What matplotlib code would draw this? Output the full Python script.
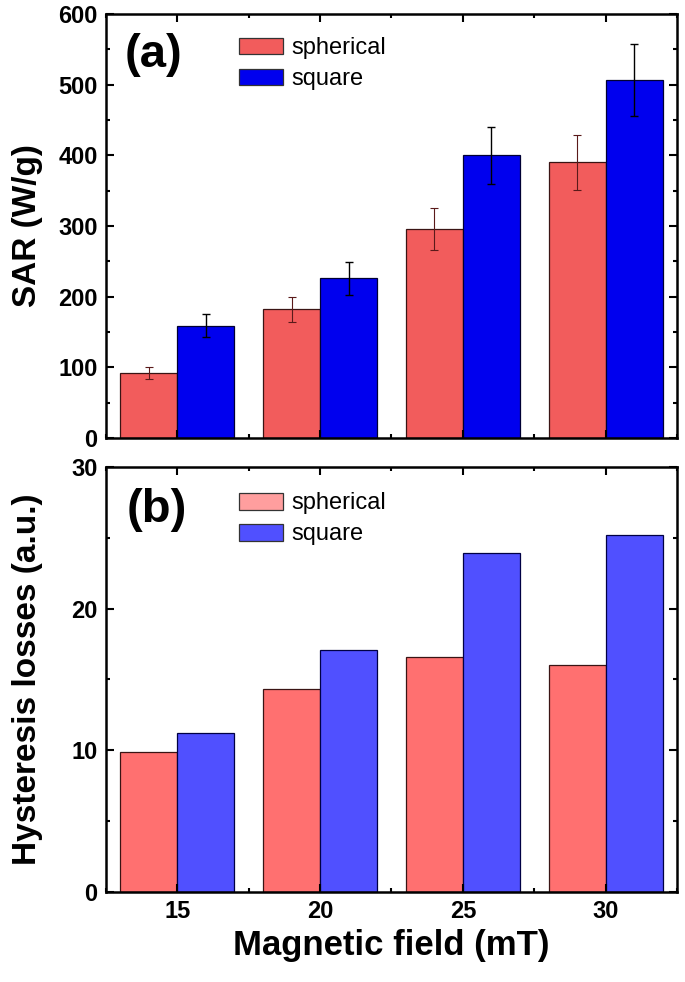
import matplotlib
matplotlib.use('Agg')
import matplotlib.pyplot as plt
from matplotlib.ticker import MultipleLocator

plt.rcParams['font.family'] = ['Liberation Sans', 'DejaVu Sans']

# datos
campo = [15, 20, 25, 30]
sar_esferica = [92, 182, 296, 390]
sar_esferica_err = [9, 18, 30, 39]
sar_cuadrada = [159, 226, 400, 506]
sar_cuadrada_err = [16, 23, 40, 51]
hist_esferica = [9.9, 14.3, 16.6, 16.0]
hist_cuadrada = [11.2, 17.1, 23.9, 25.2]

ancho = 2.0
x_esf = [c - ancho / 2 for c in campo]
x_cua = [c + ancho / 2 for c in campo]

fig = plt.figure(figsize=(6.85, 9.82), dpi=100)
ax1 = fig.add_axes([0.1547, 0.5540, 0.8336, 0.4318])
ax2 = fig.add_axes([0.1547, 0.0917, 0.8336, 0.4328])

# panel (a): SAR
ax1.bar(x_esf, sar_esferica, ancho, color='#f25c5c', edgecolor='#3a1414', linewidth=0.9,
        yerr=sar_esferica_err, error_kw=dict(ecolor='#5a1a1a', elinewidth=0.8, capsize=2.8, capthick=0.8),
        label='spherical')
ax1.bar(x_cua, sar_cuadrada, ancho, color='#0000ee', edgecolor='#000033', linewidth=0.9,
        yerr=sar_cuadrada_err, error_kw=dict(ecolor='black', elinewidth=1.0, capsize=3.2, capthick=1.0),
        label='square')
ax1.set_ylim(0, 600)
ax1.yaxis.set_major_locator(MultipleLocator(100))
ax1.yaxis.set_minor_locator(MultipleLocator(50))
ax1.set_ylabel('SAR (W/g)', fontsize=24, fontweight='bold')
ax1.yaxis.set_label_coords(-0.11, 0.5)
ax1.tick_params(labelbottom=False)
ax1.text(0.084, 0.903, '(a)', transform=ax1.transAxes, fontsize=34, fontweight='bold',
         ha='center', va='center')
leg1 = ax1.legend(loc='upper left', bbox_to_anchor=(0.233, 0.945), frameon=False, fontsize=17,
                  handlelength=1.86, handleheight=0.72, handletextpad=0.35, labelspacing=0.38,
                  borderpad=0, borderaxespad=0)
for h in leg1.legend_handles:
    h.set_edgecolor('#333333')

# panel (b): perdidas por histeresis
ax2.bar(x_esf, hist_esferica, ancho, color='#ff7070', edgecolor='#3a1414', linewidth=0.9,
        label='spherical')
ax2.bar(x_cua, hist_cuadrada, ancho, color='#5050ff', edgecolor='#000044', linewidth=0.9,
        label='square')
ax2.set_ylim(0, 30)
ax2.yaxis.set_major_locator(MultipleLocator(10))
ax2.yaxis.set_minor_locator(MultipleLocator(5))
ax2.set_ylabel('Hysteresis losses (a.u.)', fontsize=24, fontweight='bold')
ax2.yaxis.set_label_coords(-0.11, 0.5)
ax2.set_xlabel('Magnetic field (mT)', fontsize=25, fontweight='bold', labelpad=4)
ax2.text(0.089, 0.899, '(b)', transform=ax2.transAxes, fontsize=34, fontweight='bold',
         ha='center', va='center')
leg2 = ax2.legend(loc='upper left', bbox_to_anchor=(0.233, 0.94), frameon=False, fontsize=17,
                  handlelength=1.86, handleheight=0.72, handletextpad=0.35, labelspacing=0.38,
                  borderpad=0, borderaxespad=0)
leg2.legend_handles[0].set_facecolor('#ff9e9e')
for h in leg2.legend_handles:
    h.set_edgecolor('#333333')

for ax in (ax1, ax2):
    ax.set_xlim(12.5, 32.5)
    ax.set_xticks(campo)
    ax.xaxis.set_minor_locator(MultipleLocator(2.5))
    for s in ax.spines.values():
        s.set_linewidth(1.8)
    ax.tick_params(which='both', direction='in', top=True, right=True, width=1.5)
    ax.tick_params(which='major', length=6, labelsize=17, pad=6)
    ax.tick_params(which='minor', length=3)
    for lab in ax.get_xticklabels() + ax.get_yticklabels():
        lab.set_fontweight('bold')

fig.savefig('out.png', dpi=100)
